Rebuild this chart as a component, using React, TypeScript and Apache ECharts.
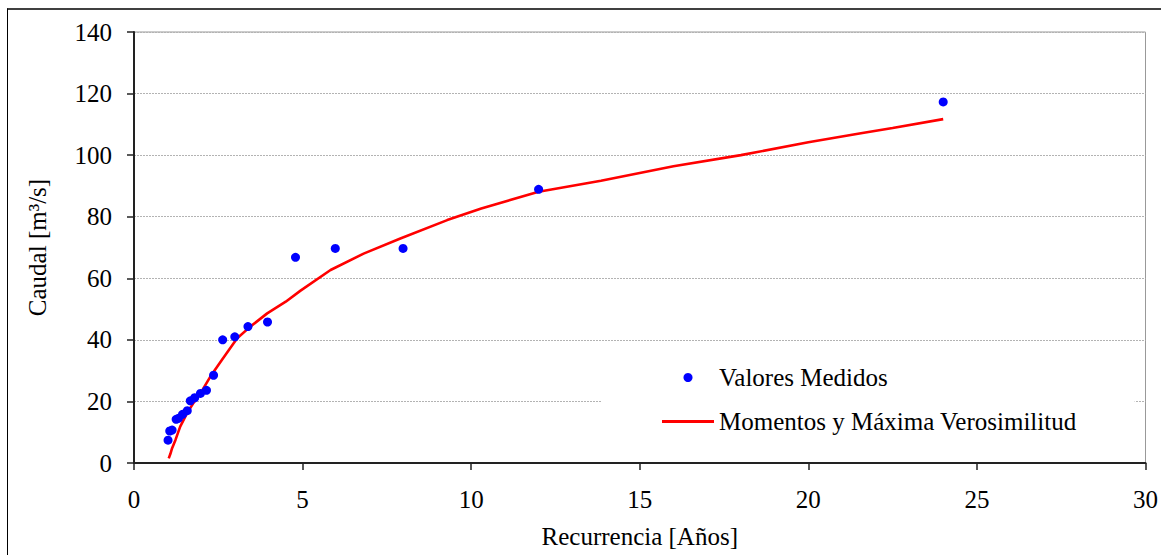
import React, { useEffect, useRef } from "react";
import * as echarts from "echarts";

// Measured values: return period [years] and flow [m3/s]
const measuredRecurrence = [24, 12, 7.98, 5.97, 4.79, 3.96, 3.38, 2.99, 2.63, 2.36, 2.15, 1.97, 1.8, 1.67, 1.58, 1.44, 1.32, 1.25, 1.13, 1.06, 1.01];
const measuredFlow = [117.3, 88.9, 69.7, 69.7, 66.8, 45.8, 44.3, 41, 40, 28.5, 23.6, 22.6, 21.2, 20.2, 17, 15.8, 14.5, 14.2, 10.7, 10.4, 7.4];

// Fitted curve (Momentos y Máxima Verosimilitud)
const curveRecurrence = [1.03, 1.08, 1.13, 1.23, 1.37, 1.57, 1.77, 1.97, 2.26, 2.6, 3.06, 3.45, 3.95, 4.5, 4.94, 5.83, 6.81, 7.9, 9.29, 10.3, 12, 13.85, 16, 18, 20, 21.56, 22.5, 24];
const curveFlow = [1.5, 3, 4.8, 7.5, 11.8, 16.1, 19.6, 22.6, 28, 33.4, 40.5, 44.3, 48.6, 52.4, 56, 62.7, 68, 72.9, 78.9, 82.7, 88.1, 91.7, 96.4, 100, 104.2, 107.1, 108.8, 111.7];

const seriesNames = ["Valores Medidos", "Momentos y Máxima Verosimilitud"];
const xAxisTitle = "Recurrencia [Años]";
const yAxisTitle = "Caudal [m³/s]";

const FONT = '"Liberation Serif", "Times New Roman", serif';

export default function App() {
  const ref = useRef<HTMLDivElement>(null);

  useEffect(() => {
    if (!ref.current) return;
    const chart = echarts.init(ref.current, undefined, { renderer: "svg" });
    const axisColor = "#222";
    chart.setOption({
      animation: false,
      backgroundColor: "#fff",
      grid: {
        left: 134,
        right: 15,
        top: 32,
        bottom: 92,
        show: true,
        borderColor: "#999",
        borderWidth: 1,
        backgroundColor: "transparent",
      },
      xAxis: {
        type: "value",
        min: 0,
        max: 30,
        interval: 5,
        name: xAxisTitle,
        nameLocation: "middle",
        nameGap: 61,
        nameTextStyle: { fontFamily: FONT, fontSize: 25, color: "#000" },
        axisLine: { show: true, onZero: false, lineStyle: { color: axisColor, width: 2 } },
        axisTick: { show: true, length: 7, lineStyle: { color: axisColor, width: 1.5 } },
        axisLabel: { margin: 24, fontFamily: FONT, fontSize: 25, color: "#000" },
        splitLine: { show: false },
      },
      yAxis: {
        type: "value",
        min: 0,
        max: 140,
        interval: 20,
        name: yAxisTitle,
        nameLocation: "middle",
        nameGap: 84,
        nameTextStyle: { fontFamily: FONT, fontSize: 25, color: "#000" },
        axisLine: { show: true, onZero: false, lineStyle: { color: axisColor, width: 2 } },
        axisTick: { show: true, length: 7, lineStyle: { color: axisColor, width: 1.5 } },
        axisLabel: { margin: 22, fontFamily: FONT, fontSize: 25, color: "#000" },
        splitLine: { show: true, lineStyle: { color: "#b3b3b3", width: 1, type: [2, 1] } },
      },
      legend: {
        orient: "vertical",
        left: 601,
        top: 350,
        padding: [15, 58, 15, 61],
        itemWidth: 52,
        itemHeight: 9,
        itemGap: 19,
        backgroundColor: "#fff",
        textStyle: { fontFamily: FONT, fontSize: 25, color: "#000" },
        data: [
          { name: seriesNames[0], icon: "circle", itemStyle: { color: "#0000ff", opacity: 1 } },
          { name: seriesNames[1], icon: "path://M0,0L52,0L52,3L0,3Z", itemStyle: { color: "#ff0000", opacity: 1 } },
        ],
      },
      series: [
        {
          name: seriesNames[1],
          type: "line",
          data: curveRecurrence.map((t, i) => [t, curveFlow[i]]),
          symbol: "none",
          showSymbol: false,
          smooth: false,
          lineStyle: { color: "#ff0000", width: 2.6 },
          itemStyle: { color: "#ff0000" },
          z: 2,
        },
        {
          name: seriesNames[0],
          type: "scatter",
          data: measuredRecurrence.map((t, i) => [t, measuredFlow[i]]),
          symbol: "circle",
          symbolSize: 9,
          itemStyle: { color: "#0000ff", opacity: 1 },
          z: 3,
        },
      ],
      graphic: [
        {
          type: "line",
          shape: { x1: 7, y1: 9, x2: 1161, y2: 9 },
          style: { stroke: "#000", lineWidth: 1.5 },
          z: 10,
        },
        {
          type: "line",
          shape: { x1: 7.5, y1: 8.5, x2: 7.5, y2: 555 },
          style: { stroke: "#000", lineWidth: 1 },
          z: 10,
        },
      ],
    });
    return () => chart.dispose();
  }, []);

  return (
    <div
      ref={ref}
      style={{ position: "fixed", left: 0, top: 0, width: 1161, height: 555, background: "#fff" }}
    />
  );
}
